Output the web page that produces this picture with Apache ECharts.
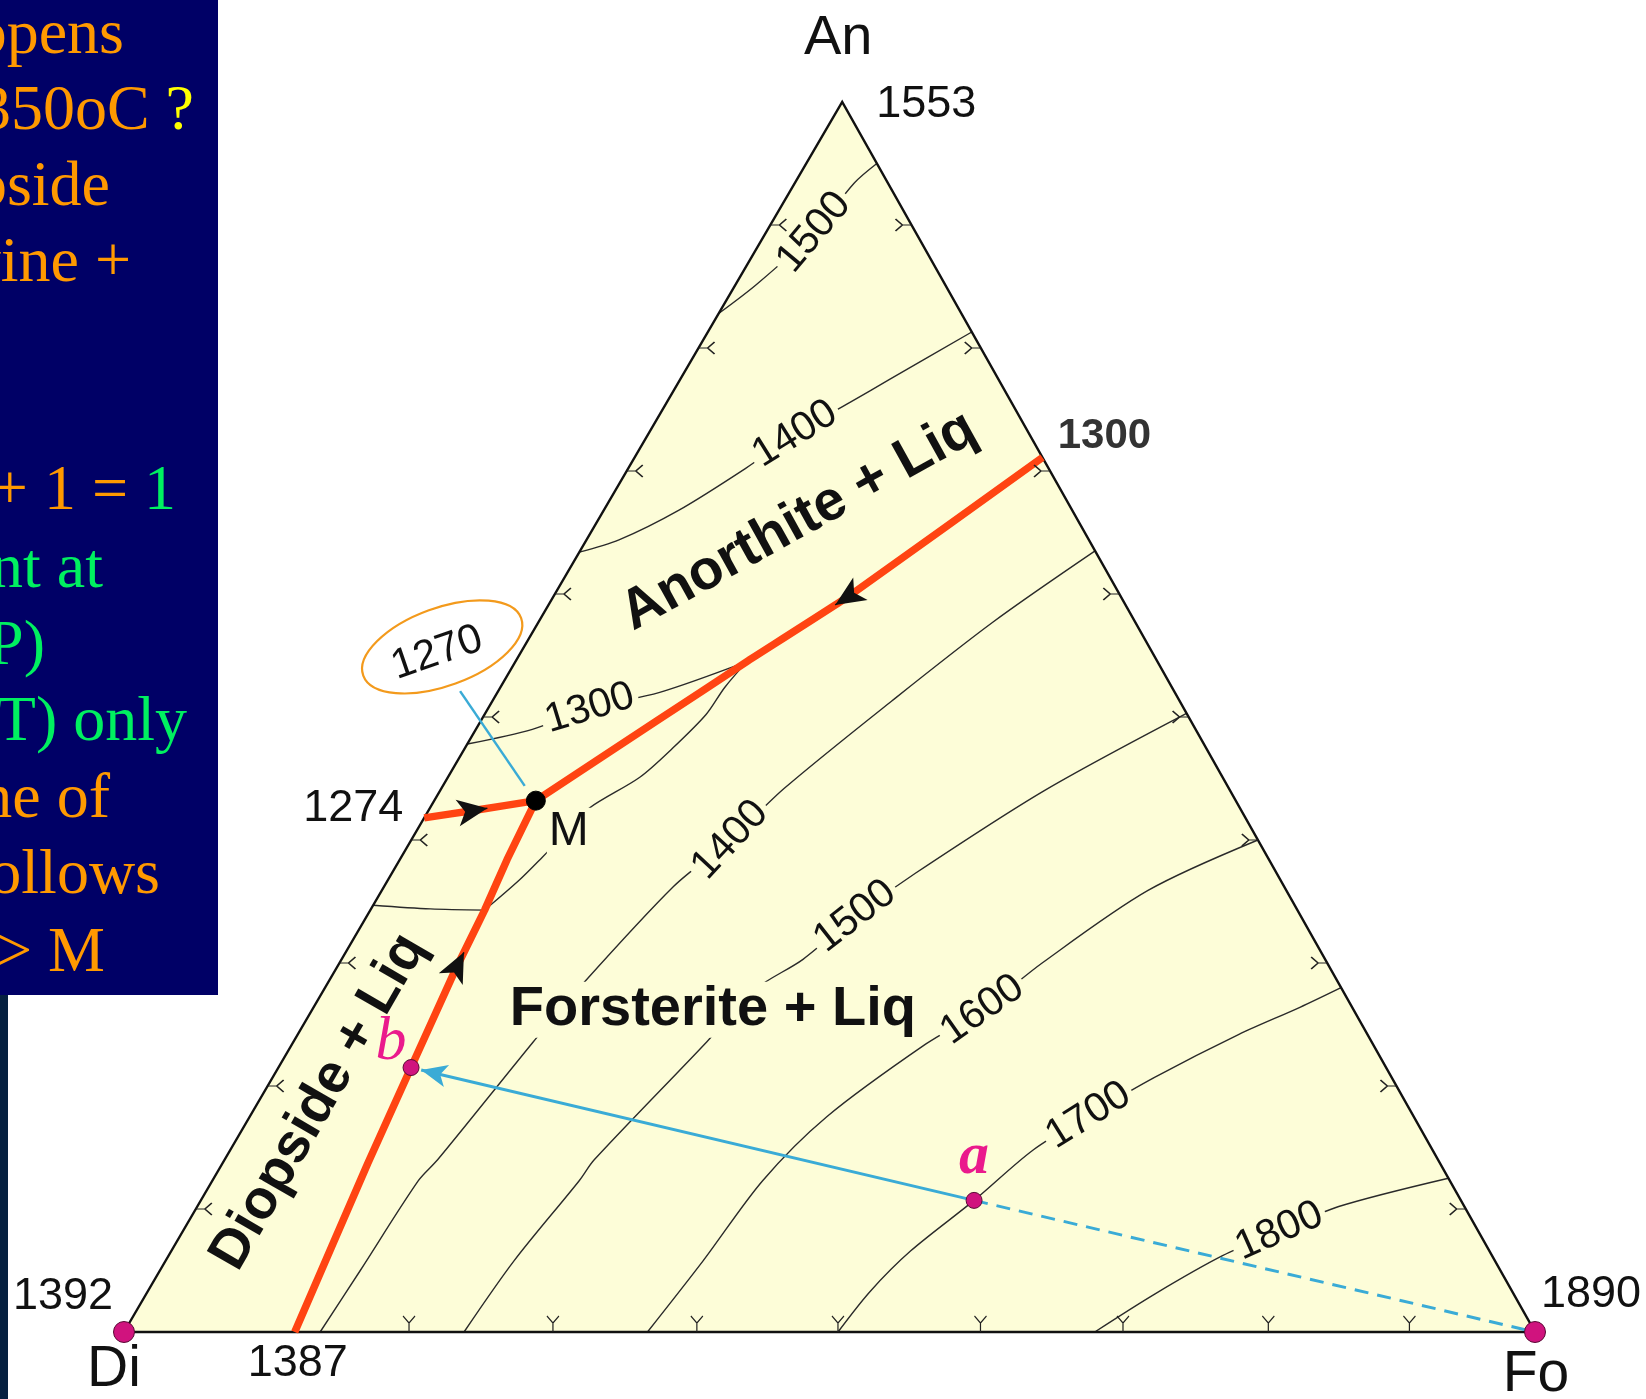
<!DOCTYPE html>
<html>
<head>
<meta charset="utf-8">
<title>Di–An–Fo liquidus</title>
<script src="https://cdn.jsdelivr.net/npm/echarts@6.0.0/dist/echarts.min.js"></script>
<style>
html, body { margin: 0; padding: 0; background: #ffffff; }
#chart { width: 1646px; height: 1399px; }
</style>
</head>
<body>
<div id="chart"></div>
<script>
// Compositions are [An, Fo] in wt.% (Di = 100 - An - Fo).
const vertices = { Di: [0, 0], Fo: [0, 100], An: [100, 0] };
const meltingPoints = { Di: 1392, An: 1553, Fo: 1890 };
const eutecticTemps = { AnDi: 1274, DiFo: 1387, AnFo: 1300, ternary: 1270 };

// Cotectic boundaries, each ending (or starting) at the ternary eutectic M
const cotecticAnFo = [[71.1, 28.9], [59.8, 20.9], [54.5, 16.4], [49.6, 12.4], [43.2, 7.2]];
const cotecticAnDi = [[41.8, 0], [42.4, 3.2], [43.2, 7.2]];
const cotecticDiFo = [[43.2, 7.2], [38.4, 7.6], [34.3, 8.1], [29.4, 8.5], [21.5, 9.4], [13.7, 10.3], [0, 12.1]];

const pointM = [43.2, 7.2];
const pointA = [10.7, 54.8];
const pointB = [21.5, 9.4];

// Liquidus isotherms (°C)
const iso1300An = [[47.8, 0], [49.0, 4.0], [50.7, 7.2], [52.0, 11.5], [54.5, 16.4]];
const iso1300Fo = [[54.5, 16.4], [52.4, 15.9], [50.2, 15.7], [47.4, 14.7], [45.1, 13.6], [42.6, 11.3], [40.7, 10.7], [38.6, 10.0], [36.7, 9.3], [34.3, 8.1]];
const iso1300Di = [[34.3, 8.1], [34.4, 4.2], [34.7, 0]];
const iso1400An = [[63.4, 0], [64.4, 2.3], [66.8, 5.3], [70.2, 8.3], [73.0, 10.4], [75.6, 13.0], [77.4, 14.8], [81.3, 18.7]];
const iso1500An = [[82.8, 0], [85.2, 1.5], [89.4, 3.4], [93.4, 4.2], [95.0, 5.0]];
const iso1400Fo = [[0, 13.9], [5.0, 14.2], [12.3, 14.6], [14.0, 15.1], [23.6, 17.0], [27.2, 17.8], [36.2, 20.5], [40.0, 22.6], [44.2, 24.3], [51.3, 28.3], [57.7, 32.2], [63.5, 36.5]];
const iso1500Fo = [[0, 24.1], [5.8, 24.7], [12.3, 26.0], [14.0, 26.2], [23.6, 29.3], [27.8, 30.5], [30.3, 32.7], [33.8, 34.6], [37.3, 37.1], [44.0, 42.8], [50.3, 49.7]];
const iso1600Fo = [[0, 37.1], [5.8, 38.1], [12.3, 39.0], [17.5, 40.9], [23.4, 44.9], [26.2, 47.5], [30.0, 49.8], [35.9, 54.3], [40.0, 60.0]];
const iso1700Fo = [[0, 50.6], [3.3, 51.2], [6.6, 52.4], [10.7, 54.8], [14.8, 56.9], [17.6, 59.4], [20.7, 62.5], [24.2, 66.7], [26.4, 69.9], [28.0, 72.0]];
const iso1800Fo = [[0, 68.8], [3.1, 71.5], [6.2, 74.7], [8.2, 77.7], [10.2, 80.9], [12.5, 87.5]];

const isoLabels = [
  { t: 1500, at: [89.4, 3.4] },
  { t: 1400, at: [73.0, 10.4] },
  { t: 1300, at: [50.7, 7.2] },
  { t: 1400, at: [40.0, 22.6] },
  { t: 1500, at: [33.8, 34.6] },
  { t: 1600, at: [26.2, 47.5] },
  { t: 1700, at: [17.6, 59.4] },
  { t: 1800, at: [8.2, 77.7] }
];

// Grid ticks along the three joins
const ticksAnDi = [10, 20, 30, 40, 50, 60, 70, 80, 90];
const ticksAnFo = [10, 20, 30, 40, 50, 60, 70, 80, 90];
const ticksDiFo = [20.2, 30.4, 40.6, 50.6, 60.7, 70.8, 81.1, 91.1];

const fieldNames = [
  { text: 'Anorthite + Liq', at: [65.9, 14.3] },
  { text: 'Forsterite + Liq', at: [26.2, 28.4] },
  { text: 'Diopside + Liq', at: [18.7, 4.3] }
];

const callout1270 = { text: [55.2, -5.9], ring: [55.7, -5.8], leader: [[52.1, -2.7], [44.4, 5.8]] };

// ---------------------------------------------------------------------------
const SKEW = 0.509;                       // apex position along the base
const P = c => [c[1] + SKEW * c[0], c[0]]; // [An, Fo] -> plot units
const FILL = '#fdfdd8';
const SANS = '"Liberation Sans", Arial, Helvetica, sans-serif';
const SERIF = '"Liberation Serif", "Times New Roman", serif';
const RED = '#ff4412';
const BLUE = '#3aabd6';
const MAGENTA = '#d0137e';
const INK = '#111111';

const chart = echarts.init(document.getElementById('chart'), null, { renderer: 'canvas' });

function lerp(p, q, t) { return [p[0] + (q[0] - p[0]) * t, p[1] + (q[1] - p[1]) * t]; }

function contour(path) {
  return {
    type: 'line', data: path.map(P), symbol: 'none', smooth: 0.3, clip: false, silent: true, z: 2,
    lineStyle: { color: '#2a2a2a', width: 1.4 }
  };
}
function cotectic(path) {
  return {
    type: 'line', data: path.map(P), symbol: 'none', smooth: 0.1, clip: false, silent: true, z: 4,
    lineStyle: { color: RED, width: 7.5, cap: 'butt' }
  };
}
function tickSeries(points, symbol, size, offset) {
  return {
    type: 'scatter', data: points.map(P), symbol: symbol, symbolSize: size, symbolOffset: offset,
    clip: false, silent: true, z: 4,
    itemStyle: { color: 'transparent', borderColor: '#222222', borderWidth: 1.4, opacity: 1 }
  };
}
// Short segment lying on a cotectic, pointing from vertex `from` towards vertex `to`;
// its arrowhead tip sits at fraction t of the way between them.
function flowArrow(line, from, to, t) {
  const a = P(line[from]), b = P(line[to]);
  const tip = lerp(a, b, t);
  const dx = a[0] - b[0], dy = a[1] - b[1], d = Math.hypot(dx, dy);
  return [{ coord: [tip[0] + dx / d * 0.5, tip[1] + dy / d * 0.5] }, { coord: tip }];
}
function textItem(at, text, lab) {
  return {
    value: P(at),
    label: Object.assign({
      show: true, position: 'inside', formatter: text,
      fontFamily: SANS, fontSize: 45, color: INK
    }, lab || {})
  };
}

const isoAngles = [50, 32, 17, 47, 38, 35, 32, 24];
const fieldStyles = [
  { rotate: 29, fontSize: 56 },
  { rotate: 0, fontSize: 56, backgroundColor: FILL, padding: [0, 4] },
  { rotate: 60, fontSize: 55 }
];

const textData = [];
isoLabels.forEach((l, i) => textData.push(textItem(l.at, String(l.t), {
  fontSize: 41, rotate: isoAngles[i], backgroundColor: FILL, padding: [0, 4]
})));
fieldNames.forEach((f, i) => textData.push(textItem(f.at, f.text, Object.assign({ fontWeight: 'bold' }, fieldStyles[i]))));
textData.push(
  textItem(vertices.An, 'An', { fontSize: 56, offset: [-4, -63] }),
  textItem(vertices.An, String(meltingPoints.An), { offset: [84, 3] }),
  textItem(vertices.Di, 'Di', { fontSize: 57, offset: [-10, 38] }),
  textItem(vertices.Di, String(meltingPoints.Di), { offset: [-61, -35] }),
  textItem(vertices.Fo, 'Fo', { fontSize: 57, offset: [1, 43] }),
  textItem(vertices.Fo, String(meltingPoints.Fo), { offset: [56, -37] }),
  textItem(cotecticAnFo[0], String(eutecticTemps.AnFo), { fontSize: 42, fontWeight: 'bold', color: '#333333', offset: [62, -21] }),
  textItem(cotecticAnDi[0], String(eutecticTemps.AnDi), { offset: [-71, -9] }),
  textItem(cotecticDiFo[cotecticDiFo.length - 1], String(eutecticTemps.DiFo), { offset: [3, 32] }),
  textItem(pointM, 'M', { fontSize: 48, offset: [33, 31], backgroundColor: FILL, padding: [0, 2] }),
  textItem(callout1270.text, String(eutecticTemps.ternary), { fontSize: 42, rotate: 19 }),
  textItem(pointA, 'a', { fontFamily: SERIF, fontStyle: 'italic', fontWeight: 'bold', fontSize: 60, color: '#ea1a8c', offset: [0, -43] }),
  textItem(pointB, 'b', { fontFamily: SERIF, fontStyle: 'italic', fontSize: 62, color: '#ea1a8c', offset: [-20, -25] })
);

const option = {
  animation: false,
  backgroundColor: '#ffffff',
  grid: { left: 124, right: 111, top: 102, bottom: 67 },
  xAxis: { type: 'value', min: 0, max: 100, show: false },
  yAxis: { type: 'value', min: 0, max: 100, show: false },
  series: [
    {
      type: 'custom', coordinateSystem: 'cartesian2d', silent: true, z: 1, data: [[0, 0]],
      renderItem: (params, api) => ({
        type: 'polygon',
        shape: { points: [vertices.Di, vertices.Fo, vertices.An].map(v => api.coord(P(v))) },
        style: { fill: FILL }
      })
    },
    contour(iso1300An), contour(iso1300Fo), contour(iso1300Di),
    contour(iso1400An), contour(iso1500An),
    contour(iso1400Fo), contour(iso1500Fo), contour(iso1600Fo), contour(iso1700Fo), contour(iso1800Fo),
    {
      type: 'line', data: [vertices.Di, vertices.Fo, vertices.An, vertices.Di].map(P), symbol: 'none',
      clip: false, silent: true, z: 3.6, lineStyle: { color: INK, width: 2.4, join: 'miter' }
    },
    tickSeries(ticksAnDi.map(a => [a, 0]), 'path://M16,0L9,6L16,12M9,6L0,6', [16, 12], [8, 0]),
    tickSeries(ticksAnFo.map(a => [a, 100 - a]), 'path://M0,0L7,6L0,12M7,6L16,6', [16, 12], [-8, 0]),
    tickSeries(ticksDiFo.map(f => [0, f]), 'path://M0,0L6,7L12,0M6,7L6,16', [12, 16], [0, -8]),
    cotectic(cotecticAnFo), cotectic(cotecticAnDi), cotectic(cotecticDiFo),
    {
      type: 'scatter', data: [], silent: true, z: 5,
      markLine: {
        silent: true, animation: false, z: 6, symbol: ['none', 'arrow'], symbolSize: [20, 30],
        label: { show: false }, emphasis: { disabled: true },
        lineStyle: { color: INK, width: 1.5, type: 'solid' },
        data: [flowArrow(cotecticAnFo, 1, 2, 0.13), flowArrow(cotecticAnDi, 1, 2, 0.22), flowArrow(cotecticDiFo, 3, 2, 0.3)]
      }
    },
    {
      type: 'line', data: callout1270.leader.map(P), symbol: 'none', clip: false, silent: true, z: 5,
      lineStyle: { color: BLUE, width: 2.5 }
    },
    {
      type: 'line', data: [P(pointA), P(vertices.Fo)], symbol: 'none', clip: false, silent: true, z: 5,
      lineStyle: { color: BLUE, width: 3, type: [14, 9] }
    },
    {
      type: 'scatter', data: [], silent: true, z: 5,
      markLine: {
        silent: true, animation: false, z: 6, symbol: ['none', 'arrow'], symbolSize: [17, 26],
        label: { show: false }, emphasis: { disabled: true },
        lineStyle: { color: BLUE, width: 3, type: 'solid' },
        data: [[{ coord: P(pointA) }, { coord: lerp(P(pointB), P(pointA), 0.018) }]]
      }
    },
    {
      type: 'scatter', symbol: 'circle', symbolSize: 1, clip: false, silent: true, z: 3,
      itemStyle: { color: 'transparent', opacity: 1 }, data: textData
    },
    {
      type: 'scatter', clip: false, silent: true, z: 7,
      itemStyle: { color: MAGENTA, borderColor: '#5a0a35', borderWidth: 1, opacity: 1 },
      data: [
        { value: P(vertices.Di), symbolSize: 21 },
        { value: P(vertices.Fo), symbolSize: 21 },
        { value: P(pointA), symbolSize: 16 },
        { value: P(pointB), symbolSize: 16 },
        { value: P(pointM), symbolSize: 19, itemStyle: { color: '#000000', borderColor: '#000000' } }
      ]
    }
  ]
};
chart.setOption(option);

// Slide text panel on the left and the circled eutectic temperature
const ORANGE = '#ff9900', GREEN = '#00f060', YELLOW = '#ffff00';
const slideLines = [
  { y: 36, end: 124, parts: [['happens', 'o']] },
  { y: 112, end: 194, parts: [['at 1350oC', 'o'], [' ?', 'y']] },
  { y: 188, end: 110, parts: [['Diopside', 'o']] },
  { y: 264, end: 131, parts: [['olivine +', 'o']] },
  { y: 492, end: 176, parts: [['3 + 1 = ', 'o'], ['1', 'g']] },
  { y: 570, end: 103, parts: [['point at', 'g']] },
  { y: 647, end: 45, parts: [['(const. P)', 'g']] },
  { y: 723, end: 187, parts: [['(and T) only', 'g']] },
  { y: 800, end: 110, parts: [['line of', 'o']] },
  { y: 876, end: 160, parts: [['follows', 'o']] },
  { y: 954, end: 105, parts: [['b -> M', 'o']] }
];
const richBase = { fontFamily: SERIF, fontSize: 64, textShadowColor: '#000000', textShadowOffsetX: 2, textShadowOffsetY: 2 };
const rich = {
  o: Object.assign({ fill: ORANGE }, richBase),
  g: Object.assign({ fill: GREEN }, richBase),
  y: Object.assign({ fill: YELLOW }, richBase)
};
const ring = chart.convertToPixel({ gridIndex: 0 }, P(callout1270.ring));
const graphics = [
  { type: 'rect', z: 50, silent: true, shape: { x: 0, y: 0, width: 218, height: 995 }, style: { fill: '#000066' } },
  { type: 'rect', z: 50, silent: true, shape: { x: 0, y: 995, width: 8, height: 404 }, style: { fill: '#062040' } },
  {
    type: 'ellipse', z: 60, silent: true, x: ring[0], y: ring[1], rotation: 20 * Math.PI / 180,
    shape: { cx: 0, cy: 0, rx: 84, ry: 39 }, style: { fill: 'none', stroke: '#f39a1c', lineWidth: 2.2 }
  }
];
slideLines.forEach(l => graphics.push({
  type: 'text', z: 51, silent: true, x: l.end, y: l.y,
  style: {
    text: l.parts.map(p => '{' + p[1] + '|' + p[0] + '}').join(''),
    rich: rich, align: 'right', verticalAlign: 'middle'
  }
}));
chart.setOption({ graphic: { elements: graphics } });
</script>
</body>
</html>
